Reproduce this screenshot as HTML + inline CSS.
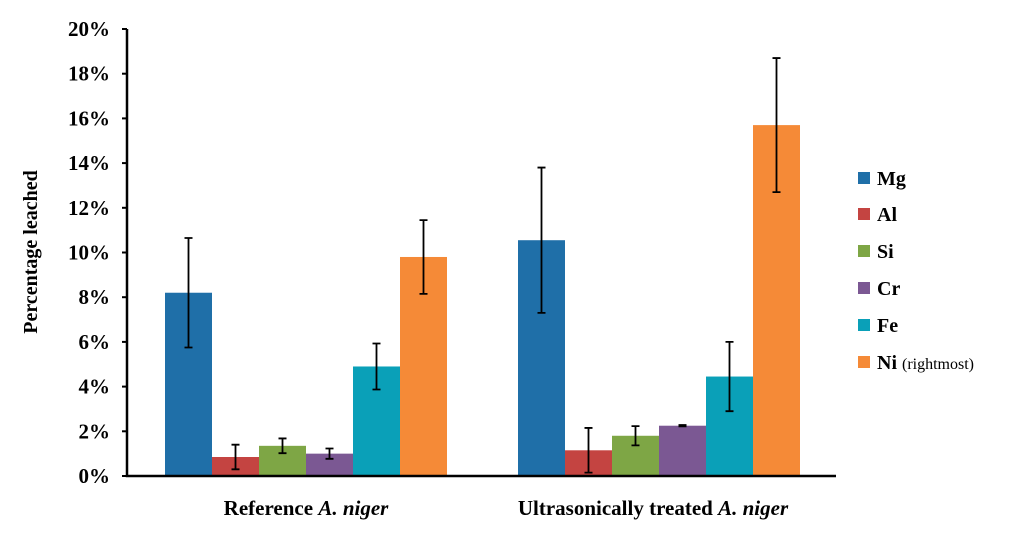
<!DOCTYPE html>
<html><head><meta charset="utf-8"><style>
body{margin:0;background:#fff}
text{font-family:"Liberation Serif",serif;font-weight:bold;fill:#000}
</style></head><body>
<svg id="chart" width="1024" height="536" xmlns="http://www.w3.org/2000/svg"></svg>
<script>
const categories=["Reference","Ultrasonically treated"];
const series=["Mg","Al","Si","Cr","Fe","Ni"];
const colors=["#1f6fa8","#c44441","#7ea645","#7b5893","#0aa0b8","#f58a37"];
const refValues=[8.2,0.85,1.35,1.0,4.9,9.8];
const refErrors=[2.45,0.55,0.33,0.23,1.03,1.65];
const usValues=[10.55,1.15,1.8,2.25,4.45,15.7];
const usErrors=[3.25,1.0,0.43,0.03,1.55,3.0];
const yTicks=[0,2,4,6,8,10,12,14,16,18,20];
const values=[refValues,usValues], errors=[refErrors,usErrors];
const NS="http://www.w3.org/2000/svg", svg=document.getElementById('chart');
function mk(t,a,p){const e=document.createElementNS(NS,t);for(const k in a)e.setAttribute(k,a[k]);(p||svg).appendChild(e);return e;}
const y0=476,y20=29,xAxis=127,xEnd=836;
const y=v=>y0-(v/20)*(y0-y20);
const groupStart=[165,518],bw=47;
const x=(g,s)=>groupStart[g]+s*bw;
values.forEach((vals,g)=>vals.forEach((v,s)=>{
 const r=mk('rect',{x:x(g,s),y:y(v),width:bw,height:y0-y(v),fill:colors[s]});
 
 
 const cx=x(g,s)+bw/2,e=errors[g][s];
 const eb=mk('path',{d:`M${cx},${y(v-e)}V${y(v+e)}M${cx-4},${y(v-e)}h8M${cx-4},${y(v+e)}h8`,stroke:'#000','stroke-width':1.8,fill:'none'});
 
 
}));
const ax=mk('path',{d:`M${xAxis},${y20}V${y0}H${xEnd}`,stroke:'#000','stroke-width':2.5,fill:'none'});


yTicks.forEach(t=>{
 const tk=mk('line',{x1:xAxis-5,x2:xAxis,y1:y(t),y2:y(t),stroke:'#000','stroke-width':2});
 
 
 const tl=mk('text',{x:110,y:y(t)+7,'text-anchor':'end','font-size':21});
 tl.textContent=t+'%';
 
 
});
const yt=mk('text',{transform:'translate(37,252) rotate(-90)','text-anchor':'middle','font-size':20});
yt.textContent='Percentage leached';


[[306,'Reference '],[653,'Ultrasonically treated ']].forEach(([cx,l],i)=>{
 const t=mk('text',{x:cx,y:515,'text-anchor':'middle','font-size':21});
 t.innerHTML=l+'<tspan font-style="italic">A. niger</tspan>';
 
 
});
const legY=[178,214,251,288,325,362];
series.forEach((s,i)=>{
 const g=mk('g',{});
 
 
 mk('rect',{x:858,y:legY[i]-6,width:12,height:12,fill:colors[i]},g);
 const t=mk('text',{x:877,y:legY[i]+7,'font-size':20},g);
 t.innerHTML=s+(s==='Ni'?' <tspan font-weight="normal" font-size="16">(rightmost)</tspan>':'');
});
</script>
</body></html>
